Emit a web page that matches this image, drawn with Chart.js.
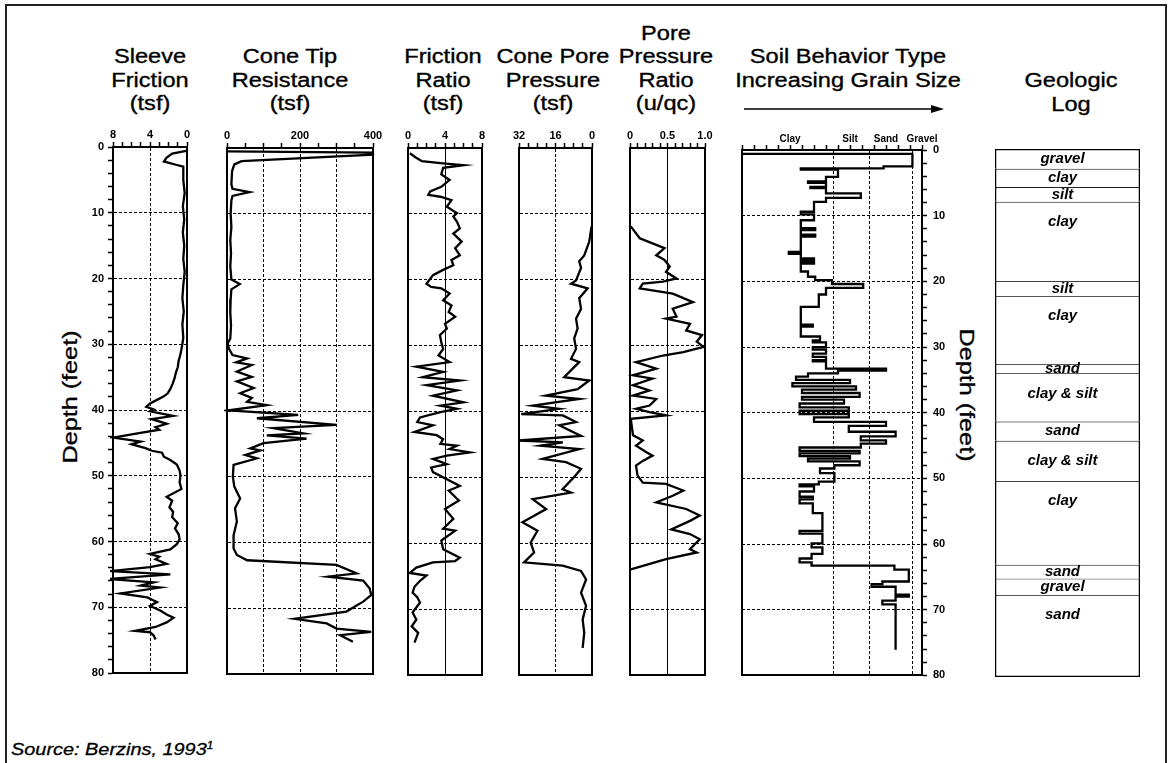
<!DOCTYPE html>
<html><head><meta charset="utf-8">
<script src="https://cdn.jsdelivr.net/npm/chart.js@4"></script>
<style>
html,body{margin:0;padding:0;background:#fff;}
body{width:1171px;height:763px;position:relative;overflow:hidden;font-family:"Liberation Sans",Arial,sans-serif;color:#000;}
canvas{position:absolute;}
#frame{position:absolute;left:5px;top:4px;width:1158px;height:820px;border:2px solid #222;}
.t{position:absolute;width:260px;margin-left:-130px;text-align:center;font-size:20px;line-height:23.5px;transform:scaleX(1.18);white-space:nowrap;-webkit-text-stroke:0.35px #000;}
.depth{position:absolute;font-size:21px;white-space:nowrap;line-height:24px;-webkit-text-stroke:0.35px #000;}
#src{position:absolute;left:11px;top:736px;font-size:17px;line-height:20px;font-style:italic;transform:scaleX(1.17);transform-origin:left center;white-space:nowrap;-webkit-text-stroke:0.3px #000;}
#src sup{font-size:10px;vertical-align:6px;}
</style></head><body>
<div id="frame"></div>
<div class="t" style="left:150px;top:45px">Sleeve<br>Friction<br>(tsf)</div>
<div class="t" style="left:290px;top:45px">Cone Tip<br>Resistance<br>(tsf)</div>
<div class="t" style="left:443px;top:45px">Friction<br>Ratio<br>(tsf)</div>
<div class="t" style="left:553px;top:45px">Cone Pore<br>Pressure<br>(tsf)</div>
<div class="t" style="left:666px;top:21.5px">Pore<br>Pressure<br>Ratio<br>(u/qc)</div>
<div class="t" style="left:848px;top:45px">Soil Behavior Type<br>Increasing Grain Size</div>
<div class="t" style="left:1071px;top:69px">Geologic<br>Log</div>
<svg style="position:absolute;left:738px;top:100px" width="215" height="20">
  <line x1="6" y1="9" x2="196" y2="9" stroke="#000" stroke-width="1.6"/>
  <polygon points="206,9 193,5 193,13" fill="#000"/>
</svg>
<div class="depth" style="left:70px;top:397px;transform:translate(-50%,-50%) rotate(-90deg) scaleX(1.2)">Depth (feet)</div>
<div class="depth" style="left:967px;top:395px;transform:translate(-50%,-50%) rotate(90deg) scaleX(1.2)">Depth (feet)</div>
<div id="src">Source: Berzins, 1993<sup>1</sup></div>

<script>
// ================= DATA =================
const depthLabelVals = [0, 10, 20, 30, 40, 50, 60, 70, 80];
const depthGridVals = [10, 20, 30, 40, 50, 60, 70];

// Sleeve Friction (tsf)
const sleeveDepth = [0.6,1.0,1.6,2.2,2.7,3.0,5,7,9,11,13,15,17,19,21,23,25,27,29,30,31.5,32.5,33.5,34.3,35.2,36,36.8,37.5,38,38.5,39,39.5,39.9,40.2,40.9,41.4,42.1,42.6,43.0,43.6,44.2,44.8,45.2,45.8,46.2,46.5,47.1,47.6,48.3,49.2,50,51,52,53.2,53.8,54.8,55.5,56.3,57.2,58,58.9,59.7,60.4,61.2,61.9,62.3,62.7,63.4,63.9,64.5,65.0,65.7,66.2,66.7,67.0,67.9,68.5,69.2,69.8,70.5,71.1,71.6,72.3,73.0,73.6,73.8,74.3,74.9];
const sleeveTsf   = [0.1,1.6,2.2,2.5,1.2,0.4,0.4,0.25,0.45,0.3,0.45,0.3,0.4,0.25,0.4,0.5,0.35,0.5,0.4,0.5,0.7,0.9,1.0,1.2,1.35,1.55,1.8,2.1,2.6,3.3,4.0,4.4,3.6,4.0,1.5,3.8,2.2,3.4,3.0,5.5,8.0,5.0,6.0,4.5,3.8,2.7,2.5,1.8,1.1,0.8,0.7,0.8,0.6,2.2,1.6,1.9,1.5,1.6,1.0,1.3,0.9,0.8,1.1,1.8,4.0,3.0,3.4,2.2,4.0,8.3,1.8,8.5,3.6,5.0,2.9,7.2,4.3,3.25,4.0,2.9,2.2,1.45,2.2,3.4,5.6,4.0,3.6,3.4];
const sleeveTickVals = [8, 4, 0];
const sleeveTickText = ['8', '4', '0'];

// Cone Tip Resistance (tsf)
const coneDepth = [0.5,0.7,1.0,2.0,2.5,3.5,5.5,6.2,6.7,7.3,8,10,12,14,16,18,20,20.7,21.5,23,25,27,29,29.7,30.5,31.5,32.0,32.6,33.0,34.0,34.8,35.5,36.5,37.3,38.0,38.6,39.1,39.9,40.6,41.1,42.1,42.6,43.4,43.7,44.2,44.9,45.7,46.0,46.7,47.2,48.2,50,51.5,53.3,54.8,56.8,58.9,60.9,61.9,62.7,63.4,64.7,65.2,65.8,67,68,69,70.5,71.6,72.3,73.1,73.6,74.1,75.1];
const coneTsf   = [0,400,400,40,20,14,12,15,62,15,12,10,12,9,11,9,12,35,12,10,9,11,9,2,5,15,55,25,68,27,68,27,73,36,68,55,109,5,195,82,300,127,209,109,218,100,64,91,50,82,18,16,20,36,22,27,18,18,27,55,300,355,277,373,391,395,373,327,185,273,300,395,310,345];
const coneTickVals = [0, 200, 400];
const coneTickText = ['0', '200', '400'];

// Friction Ratio
const frDepth = [0.8,1.4,2.0,2.3,2.6,3.0,4.0,4.85,5.9,6.6,7.1,7.4,7.9,8.9,9.9,10.4,11.2,12.2,13.0,14.2,15.2,16.3,17.0,17.8,18.5,19.3,20.6,21.1,21.3,22.1,23.1,23.9,24.9,25.6,26.7,27.4,28.4,29.5,30.5,31.5,32.5,33.2,34.0,34.8,35.3,36.0,36.8,37.6,38.6,39.1,39.6,40.1,40.9,41.6,42.1,43.1,43.6,44.2,44.9,45.2,45.7,46.2,46.7,47.2,48.0,48.5,49.2,50.3,51.3,52.0,53.5,54.8,56.3,57.8,58.1,59.6,60.9,62.2,62.7,62.9,63.7,64.5,64.9,65.7,66.6,67.5,68.2,69.0,70.5,71.6,72.6,73.6,75.1];
const frValue = [0.2,0.8,1.5,3.5,6.0,3.8,3.6,4.5,3.6,2.4,2.2,3.5,4.7,4.2,5.3,4.9,5.3,5.6,4.9,5.8,5.1,5.6,4.7,4.9,3.8,2.7,2.0,2.5,3.6,4.5,3.8,4.7,4.4,5.1,4.0,4.2,3.45,3.6,3.8,3.3,4.5,0.9,3.8,1.6,5.6,2.0,5.3,2.7,6.0,3.5,5.3,3.5,1.3,1.0,2.7,0.7,3.1,3.8,3.5,5.3,4.5,6.7,4.2,2.7,4.2,2.5,2.7,4.2,5.6,4.4,5.5,4.0,4.9,3.8,5.1,3.6,3.8,5.6,5.1,2.7,0.9,0.2,2.0,1.3,0.7,0.5,1.0,1.3,0.5,0.9,0.4,1.1,0.7];
const frTickVals = [0, 4, 8];
const frTickText = ['0', '4', '8'];

// Cone Pore Pressure (tsf)
const cppDepth = [11.9,14.2,16.3,17.2,18.2,20.1,20.6,21.3,22.8,24.4,25.9,27.4,28.9,30.5,32.0,32.5,34.8,35.3,36.6,37.6,38.1,39.1,39.6,40.4,40.6,41.6,42.1,43.7,44.4,44.7,45.2,45.7,47.2,47.7,48.7,50.0,51.8,52.3,53.3,54.8,56.8,58.1,59.9,61.4,62.9,63.4,64.2,65.5,67.5,69.5,71.6,73.6,75.9];
const cppTsf   = [0.2,1.2,3.4,5.6,4.8,7.0,9.2,1.9,5.6,4.8,7.0,6.3,7.8,7.0,9.2,5.6,12.2,1.2,6.3,20.3,5.6,26.0,14.4,31.0,12.8,7.0,14.4,4.8,32.0,12.8,22.5,5.6,21.7,11.4,4.8,8.0,12.9,9.2,26.0,20.1,30.5,23.9,26.9,25.4,29.8,12.9,4.8,2.6,4.8,2.6,4.1,3.4,4.1];
const cppTickVals = [32, 16, 0];
const cppTickText = ['32', '16', '0'];

// Pore Pressure Ratio (u/qc)
const pprDepth = [11.9,13.7,14.7,15.2,16.3,17.0,18.0,18.8,19.8,20.3,20.6,21.3,22.1,23.4,24.4,25.6,25.9,26.7,27.7,28.4,29.4,30.2,31.0,31.5,32.5,33.5,34.5,35.0,36.0,36.8,37.6,38.1,39.1,39.6,40.1,40.6,41.1,43.6,44.4,45.2,46.2,46.7,47.5,48.2,49.7,50.8,51.0,52.0,52.8,53.8,54.8,55.8,56.6,57.9,58.6,59.4,60.9,61.4,62.4,64.0];
const pprValue = [0.01,0.13,0.35,0.46,0.35,0.46,0.53,0.48,0.62,0.44,0.17,0.13,0.57,0.84,0.57,0.62,0.48,0.80,0.75,0.96,0.89,0.98,0.71,0.44,0.08,0.35,0.04,0.30,0.04,0.26,0.04,0.35,0.26,0.08,0.26,0.48,0.01,0.04,0.17,0.08,0.22,0.30,0.17,0.08,0.10,0.17,0.48,0.71,0.57,0.35,0.75,0.93,0.80,0.55,0.80,0.93,0.80,0.89,0.48,0.0];
const pprTickVals = [0, 0.5, 1];
const pprTickText = ['0', '0.5', '1.0'];

// Soil Behavior Type (layer value from this depth downward)
const sbtDepth = [0.6,0.6,2.5,2.8,3.0,4.1,4.8,5.0,5.6,5.8,6.6,7.3,7.9,9.4,9.8,10.7,11.9,12.2,12.9,13.2,15.5,15.8,16.5,16.8,17.0,17.3,18.5,19.3,19.8,20.4,21.0,22.0,23.9,26.6,26.9,28.4,29.0,29.3,30.0,30.4,31.0,31.5,32.0,32.2,33.3,33.6,34.0,34.5,35.0,35.5,36.0,36.5,37.0,37.6,38.0,38.6,39.2,39.7,40.2,40.7,41.4,42.0,42.9,43.6,44.2,44.7,45.3,45.8,46.2,46.6,47.0,47.4,48.0,48.5,49.2,50.5,50.9,51.2,52.0,52.8,53.2,53.8,55.3,58.0,58.4,59.9,60.5,61.5,62.2,62.8,63.3,63.9,65.7,66.1,66.5,67.7,68.0,68.6,69.2,76.1];
const sbtValue = [0,14.2,11.8,4.9,8.0,7.0,5.5,7.0,5.7,7.0,9.9,7.0,6.0,4.9,6.0,4.9,6.1,4.9,6.1,4.9,3.9,4.9,6.0,4.9,6.0,4.9,5.5,6.1,7.5,10.1,7.0,6.4,4.9,5.9,4.9,6.5,5.9,7.0,5.9,7.0,5.9,7.0,5.9,7.0,12.0,8.0,5.5,4.5,9.0,4.2,9.5,5.0,9.8,5.0,8.5,4.8,8.9,4.8,8.9,6.0,12.0,8.9,12.8,9.9,12.0,9.9,4.8,9.8,4.8,9.0,5.5,9.8,7.7,6.5,7.7,6.4,4.8,6.0,4.8,5.9,4.8,5.9,6.7,4.8,6.7,5.8,6.7,5.8,4.8,5.8,12.7,13.9,11.7,10.8,12.8,13.9,12.8,11.7,12.8,12.8];
const sbtTickVals = [4, 9, 12, 15];
const sbtTickText = ['Clay', 'Silt', 'Sand', 'Gravel'];
const sbtBoundVals = [7.6, 10.6, 14.2];

// Geologic Log
const geoTop    = [0, 3, 5.8, 8, 20, 22.3, 32.6, 34, 41.3, 44.2, 50.3, 63, 65.1, 67.6];
const geoBottom = [3, 5.8, 8, 20, 22.3, 32.6, 34, 41.3, 44.2, 50.3, 63, 65.1, 67.6, 80];
const geoName   = ['gravel','clay','silt','clay','silt','clay','sand','clay & silt','sand','clay & silt','clay','sand','gravel','sand'];

// ================= DRAWING =================
Chart.defaults.font.family = '"Liberation Sans", Arial, sans-serif';
Chart.defaults.color = '#000';

const near = (arr, v) => arr.some(a => Math.abs(a - v) < 1e-6);
function rangeTicks(min, max, step) {
  const out = []; const n = Math.round((max - min) / step);
  for (let i = 0; i <= n; i++) out.push(+(min + i * step).toFixed(6));
  return out;
}
const CLEAR = 'rgba(0,0,0,0)';

function buildPanel(p) {
  const PADX = 12, TOPH = 28, PADB = 12, YW = 30;
  const leftW = p.ySide === 'left' ? YW : 0, rightW = p.ySide === 'right' ? YW : 0;
  const w = (p.R - p.L) + 2 * PADX + leftW + rightW, h = (p.B - p.T) + TOPH + PADB;
  const cv = document.createElement('canvas');
  cv.width = w; cv.height = h;
  cv.style.left = (p.L - PADX - leftW) + 'px';
  cv.style.top = (p.T - TOPH) + 'px';
  document.body.appendChild(cv);

  const minorX = rangeTicks(p.min, p.max, p.step);
  const allX = [...new Set([...minorX, ...p.gridVals, ...p.labelVals])].sort((a, b) => a - b);
  const hasY = !!p.ySide;
  const minorY = hasY ? rangeTicks(0, 80, 2) : depthLabelVals;

  const points = p.depth.map((d, i) => ({ x: p.vals[i], y: d }));

  new Chart(cv, {
    type: 'scatter',
    data: { datasets: [{
      data: points, showLine: true, pointRadius: 0, borderColor: '#000', borderWidth: 2.3,
      tension: 0, stepped: p.stepped ? 'after' : false, clip: 3
    }]},
    options: {
      responsive: false, animation: false, devicePixelRatio: 1, events: [],
      layout: { padding: { left: PADX, right: PADX, top: 0, bottom: PADB } },
      plugins: { legend: { display: false }, tooltip: { enabled: false } },
      scales: {
        x: {
          type: 'linear', position: 'top', min: p.min, max: p.max, reverse: !!p.rev,
          afterBuildTicks: s => { s.ticks = allX.map(v => ({ value: v })); },
          afterFit: s => { s.height = TOPH; },
          ticks: {
            autoSkip: false, maxRotation: 0, minRotation: 0, padding: 0, color: '#000',
            font: { size: p.labelSize || 11, weight: 'bold' },
            callback: v => { const k = p.labelVals.findIndex(a => Math.abs(a - v) < 1e-6); return k < 0 ? '' : p.labelText[k]; }
          },
          grid: {
            drawOnChartArea: true, drawTicks: true, tickLength: 5, tickWidth: 1.5, lineWidth: 1,
            color: c => (c.tick && near(p.gridVals, c.tick.value)) ? '#000' : CLEAR,
            tickColor: c => (c.tick && near(minorX, c.tick.value)) ? '#000' : CLEAR
          },
          border: { display: true, color: '#000', width: 2, dash: p.vdash }
        },
        x2: {
          type: 'linear', axis: 'x', position: 'bottom', min: p.min, max: p.max, reverse: !!p.rev,
          afterFit: s => { s.height = 0; },
          ticks: { display: false },
          grid: { drawOnChartArea: false, drawTicks: false },
          border: { display: true, color: '#000', width: 2 }
        },
        y: {
          type: 'linear', position: p.ySide === 'right' ? 'right' : 'left', min: 0, max: 80, reverse: true,
          afterBuildTicks: s => { s.ticks = minorY.map(v => ({ value: v })); },
          afterFit: s => { s.width = hasY ? YW : 0; },
          ticks: {
            display: hasY, autoSkip: false, padding: p.ySide === 'right' ? 6 : 4, color: '#000',
            font: { size: 11, weight: 'bold' },
            callback: v => near(depthLabelVals, v) ? String(v) : ''
          },
          grid: {
            drawOnChartArea: true, drawTicks: hasY, tickLength: 5, tickWidth: 1.5, lineWidth: 1,
            color: c => (c.tick && near(depthGridVals, c.tick.value)) ? '#000' : CLEAR,
            tickColor: c => (c.tick && near(minorY, c.tick.value)) ? '#000' : CLEAR
          },
          border: { display: true, color: '#000', width: 2, dash: [3, 2] }
        },
        y2: {
          type: 'linear', axis: 'y', position: p.ySide === 'right' ? 'left' : 'right', min: 0, max: 80, reverse: true,
          afterFit: s => { s.width = 0; },
          ticks: { display: false },
          grid: { drawOnChartArea: false, drawTicks: false },
          border: { display: true, color: '#000', width: 2 }
        }
      }
    }
  });
}

const panels = [
  { L: 113, R: 187, T: 147, B: 673, min: 0, max: 8, rev: true, step: 1, labelVals: sleeveTickVals, labelText: sleeveTickText, gridVals: [4], vdash: [3, 2], depth: sleeveDepth, vals: sleeveTsf, ySide: 'left' },
  { L: 227, R: 373, T: 148, B: 674, min: 0, max: 400, step: 50, labelVals: coneTickVals, labelText: coneTickText, gridVals: [100, 200, 300], vdash: [3, 2], depth: coneDepth, vals: coneTsf },
  { L: 408, R: 482, T: 148, B: 675, min: 0, max: 8, step: 1, labelVals: frTickVals, labelText: frTickText, gridVals: [4], vdash: [], depth: frDepth, vals: frValue },
  { L: 519, R: 592, T: 148, B: 675, min: 0, max: 32, rev: true, step: 4, labelVals: cppTickVals, labelText: cppTickText, gridVals: [16], vdash: [3, 2], depth: cppDepth, vals: cppTsf },
  { L: 630, R: 705, T: 148, B: 675, min: 0, max: 1, step: 0.1, labelVals: pprTickVals, labelText: pprTickText, gridVals: [0.5], vdash: [], depth: pprDepth, vals: pprValue },
  { L: 742, R: 922, T: 150, B: 676, min: 0, max: 15, step: 1, labelVals: sbtTickVals, labelText: sbtTickText, gridVals: sbtBoundVals, vdash: [3, 2], labelSize: 10, depth: sbtDepth, vals: sbtValue, ySide: 'right', stepped: true }
];
panels.forEach(buildPanel);

// Geologic log
(function () {
  const L = 995, R = 1140, T = 149, B = 677;
  const cv = document.createElement('canvas');
  cv.width = R - L; cv.height = B - T;
  cv.style.left = L + 'px'; cv.style.top = T + 'px';
  document.body.appendChild(cv);
  const last = geoName.length - 1;
  const labelPlugin = {
    id: 'geoLabels',
    afterDatasetsDraw(chart) {
      const ctx = chart.ctx;
      ctx.save();
      ctx.font = 'italic bold 15px "Liberation Sans", Arial, sans-serif';
      ctx.fillStyle = '#000'; ctx.textAlign = 'center'; ctx.textBaseline = 'middle';
      chart.data.datasets.forEach((ds, i) => {
        const el = chart.getDatasetMeta(i).data[0];
        if (!el) return;
        const top = Math.min(el.y, el.base), bot = Math.max(el.y, el.base);
        const cy = Math.min((top + bot) / 2, top + 20);
        ctx.fillText(ds.label, el.x - 5, cy);
      });
      ctx.restore();
    }
  };
  new Chart(cv, {
    type: 'bar',
    data: {
      labels: ['log'],
      datasets: geoName.map((n, i) => ({
        label: n, data: [[geoTop[i], geoBottom[i]]],
        backgroundColor: '#fff', borderColor: '#000', borderSkipped: false,
        borderWidth: { top: i === 0 ? 1.6 : 1, bottom: i === last ? 1.6 : 0, left: 1.6, right: 1.6 },
        grouped: false, barPercentage: 1, categoryPercentage: 1
      }))
    },
    options: {
      responsive: false, animation: false, devicePixelRatio: 1, events: [],
      layout: { padding: 0 },
      plugins: { legend: { display: false }, tooltip: { enabled: false } },
      scales: {
        x: { display: false },
        y: { display: false, min: 0, max: 80, reverse: true }
      }
    },
    plugins: [labelPlugin]
  });
})();
</script>
</body></html>
